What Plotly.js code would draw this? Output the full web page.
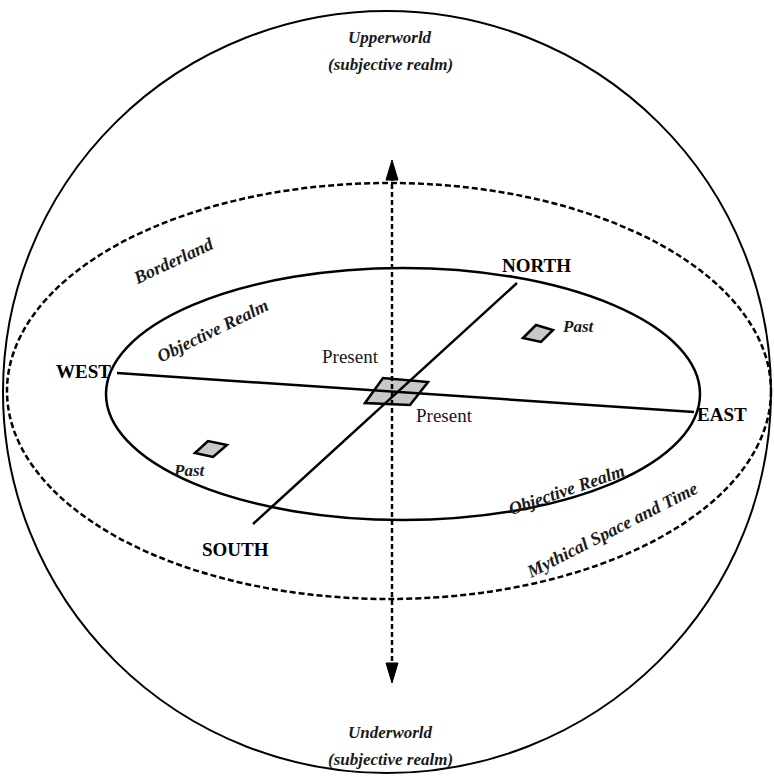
<!DOCTYPE html>
<html>
<head>
<meta charset="utf-8">
<script src="https://cdn.plot.ly/plotly-3.0.1.min.js"></script>
<style>html,body{margin:0;padding:0;background:#fff;}#chart{width:774px;height:777px;}</style>
</head>
<body>
<div id="chart"></div>
<script>
// ---- Data ----
// Outer sphere: [cx, cy, rx, ry]
const sphere = [387, 392, 384, 381];
// Borderland (dashed) ellipse
const borderland = [389, 391, 382, 208];
// Objective realm (solid) ellipse
const objective = [403, 394, 297, 126];
// Axes of the compass: [x0, y0, x1, y1]
const eastWest = [117, 373, 694, 412];
const northSouth = [517, 283, 253, 524];
const verticalAxis = [392, 176, 392, 667];
// Arrow tips and the direction they point (-1 up, +1 down)
const arrowTipX = [392, 392];
const arrowTipY = [160, 683];
const arrowDir = [-1, 1];
// Parallelograms (present and pasts)
const presentX = [365, 383, 428, 410];
const presentY = [403, 378, 382, 405];
const pastNEX = [523, 536, 553, 541];
const pastNEY = [338, 325, 330, 342];
const pastSWX = [195, 208, 227, 213];
const pastSWY = [453, 441, 445, 457];
// Labels
const compassText = ['NORTH', 'WEST', 'EAST', 'SOUTH'];
const compassX = [536, 83, 722, 235];
const compassY = [265, 371, 414, 549];
const realmText = ['Upperworld', '(subjective realm)', 'Underworld', '(subjective realm)'];
const realmX = [390, 390, 390, 390];
const realmY = [37, 64, 732, 759];
const zoneText = ['Borderland', 'Objective Realm', 'Objective Realm', 'Mythical Space and Time'];
const zoneX = [173, 212, 566, 612];
const zoneY = [261, 331, 490, 530];
const zoneAngle = [-25, -26, -19, -27];
const pastText = ['Past', 'Past'];
const pastX = [578, 189];
const pastY = [326, 470];
const presentText = ['Present', 'Present'];
const presentLX = [350, 444];
const presentLY = [356, 415];

// ---- Build ----
function ellipse(e, dash, w) {
  return {type: 'circle', xref: 'x', yref: 'y',
    x0: e[0] - e[2], x1: e[0] + e[2], y0: e[1] - e[3], y1: e[1] + e[3],
    line: {color: '#000', width: w, dash: dash}, fillcolor: 'rgba(0,0,0,0)'};
}
function seg(s, dash, w) {
  return {type: 'line', xref: 'x', yref: 'y', x0: s[0], y0: s[1], x1: s[2], y1: s[3],
    line: {color: '#000', width: w, dash: dash}};
}
function poly(xs, ys, fill, w) {
  let p = 'M' + xs.map((x, i) => x + ',' + ys[i]).join(' L') + ' Z';
  return {type: 'path', xref: 'x', yref: 'y', path: p,
    fillcolor: fill, line: {color: '#000', width: w}};
}
function arrowHead(x, y, d) {
  return poly([x, x - 6, x + 6], [y, y - d * 20, y - d * 20], '#000', 1);
}

const shapes = [
  ellipse(sphere, 'solid', 2),
  ellipse(borderland, '6px,3px', 2.5),
  ellipse(objective, 'solid', 2.5),
  poly(presentX, presentY, '#c8c8c8', 2.5),
  poly(pastNEX, pastNEY, '#c8c8c8', 2.5),
  poly(pastSWX, pastSWY, '#c8c8c8', 2.5),
  seg(eastWest, 'solid', 2.5),
  seg(northSouth, 'solid', 2.5),
  seg(verticalAxis, '5px,3px', 2.5)
];
arrowTipX.forEach((x, i) => shapes.push(arrowHead(x, arrowTipY[i], arrowDir[i])));

const serif = 'Liberation Serif, Times New Roman, serif';
const annotations = [];
function note(x, y, text, size, angle, color) {
  annotations.push({x: x, y: y, xref: 'x', yref: 'y', text: text, textangle: angle || 0,
    showarrow: false, font: {family: serif, size: size, color: color || '#1a1a1a'}});
}
compassText.forEach((t, i) => note(compassX[i], compassY[i], '<b>' + t + '</b>', 19, 0, '#000'));
realmText.forEach((t, i) => note(realmX[i], realmY[i], '<i><b>' + t + '</b></i>', 17));
zoneText.forEach((t, i) => note(zoneX[i], zoneY[i], '<i><b>' + t + '</b></i>', 18, zoneAngle[i]));
pastText.forEach((t, i) => note(pastX[i], pastY[i], '<i><b>' + t + '</b></i>', 17));
presentText.forEach((t, i) => note(presentLX[i], presentLY[i], t, 19));

const layout = {
  width: 774, height: 777, margin: {l: 0, r: 0, t: 0, b: 0},
  paper_bgcolor: '#fff', plot_bgcolor: '#fff', showlegend: false,
  xaxis: {range: [0, 774], visible: false, fixedrange: true},
  yaxis: {range: [777, 0], visible: false, fixedrange: true},
  shapes: shapes, annotations: annotations
};
Plotly.newPlot('chart', [], layout, {displayModeBar: false, staticPlot: true});
</script>
</body>
</html>
